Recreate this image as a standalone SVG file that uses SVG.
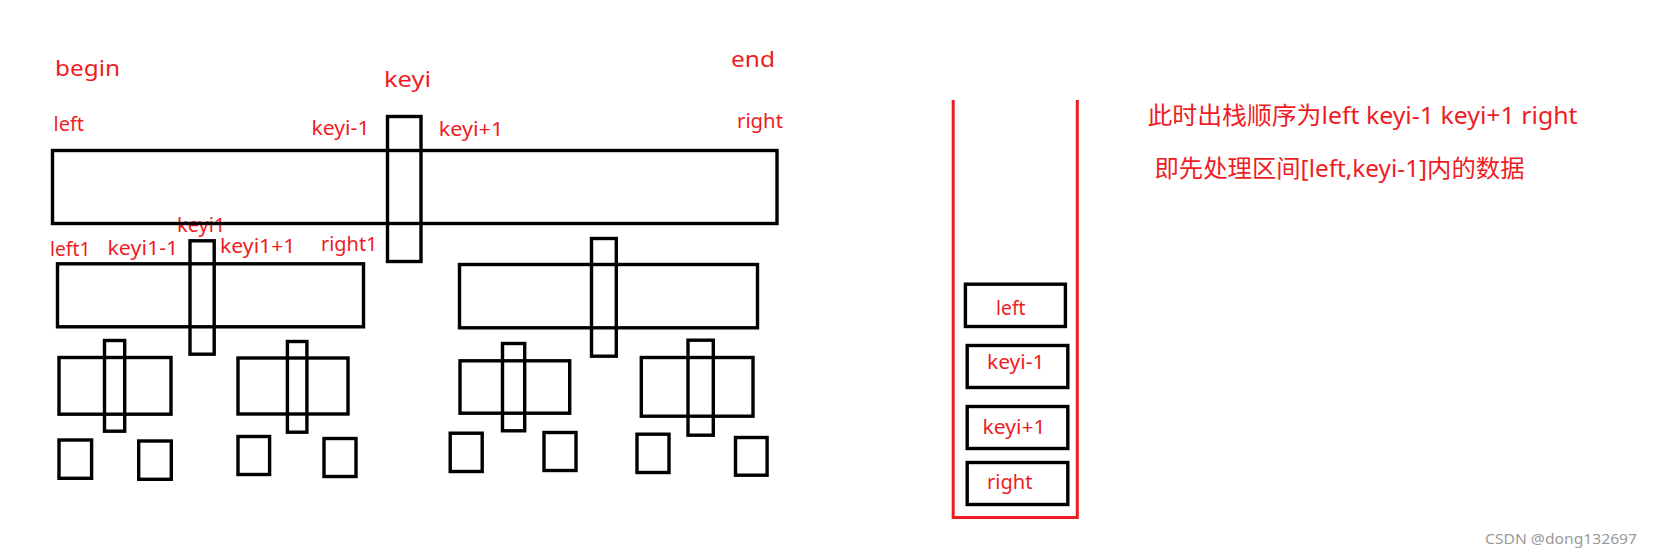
<svg xmlns="http://www.w3.org/2000/svg" width="1653" height="557" viewBox="0 0 1653 557">
<style>
.b{fill:none;stroke:#000;stroke-width:3.4}
.r{fill:none;stroke:#ED1C24;stroke-width:3}
text{font-family:"Noto Sans","Noto Sans CJK SC",sans-serif;fill:#EE1C25}
.L{font-size:22px}
.M{font-size:19px}
.C{font-size:24px}
.w{font-size:14.5px;fill:#9a9a9a}
</style>
<rect width="1653" height="557" fill="#fff"/>
<g id="labels-top">
<text class="L" x="55" y="75.5" textLength="65" lengthAdjust="spacingAndGlyphs">begin</text>
<text class="L" x="384" y="87" textLength="47" lengthAdjust="spacingAndGlyphs">keyi</text>
<text class="L" x="731" y="66.5" textLength="44" lengthAdjust="spacingAndGlyphs">end</text>
<text class="M" x="53.5" y="130.5" textLength="30.5" lengthAdjust="spacingAndGlyphs">left</text>
<text class="M" x="311.5" y="135" textLength="58" lengthAdjust="spacingAndGlyphs">keyi-1</text>
<text class="M" x="438.8" y="136" textLength="64.5" lengthAdjust="spacingAndGlyphs">keyi+1</text>
<text class="M" x="737" y="127.5" textLength="46" lengthAdjust="spacingAndGlyphs">right</text>
<text class="M" x="177" y="231.5" textLength="48.5" lengthAdjust="spacingAndGlyphs">keyi1</text>
<text class="M" x="50" y="255.5" textLength="40.5" lengthAdjust="spacingAndGlyphs">left1</text>
<text class="M" x="107.4" y="255" textLength="71" lengthAdjust="spacingAndGlyphs">keyi1-1</text>
<text class="M" x="220" y="253.3" textLength="75.5" lengthAdjust="spacingAndGlyphs">keyi1+1</text>
<text class="M" x="321" y="250.5" textLength="56.5" lengthAdjust="spacingAndGlyphs">right1</text>
</g>
<g id="level1">
<rect class="b" x="52.5" y="150.5" width="724.5" height="73"/>
<rect class="b" x="387.5" y="116.5" width="33.5" height="145"/>
</g>
<g id="level2">
<rect class="b" x="57.5" y="263.8" width="306" height="63"/>
<rect class="b" x="190" y="240.8" width="24.2" height="113.4"/>
<rect class="b" x="459.5" y="264.5" width="298" height="63.3"/>
<rect class="b" x="591.5" y="238.5" width="24.8" height="117.7"/>
</g>
<g id="level3">
<rect class="b" x="59" y="357.5" width="112" height="56.7"/>
<rect class="b" x="104.5" y="340.5" width="20.2" height="90.7"/>
<rect class="b" x="238" y="358" width="110" height="56"/>
<rect class="b" x="287.4" y="341.5" width="19.5" height="90.7"/>
<rect class="b" x="460" y="360.8" width="109.7" height="52.4"/>
<rect class="b" x="502.5" y="343.5" width="22.2" height="87.3"/>
<rect class="b" x="641.3" y="357.5" width="111.7" height="58.7"/>
<rect class="b" x="688" y="340.2" width="25.3" height="95"/>
</g>
<g id="level4">
<rect class="b" x="59" y="440" width="32.6" height="38.3"/>
<rect class="b" x="138.7" y="441" width="32.6" height="38.3"/>
<rect class="b" x="238" y="436.5" width="31.6" height="38"/>
<rect class="b" x="324" y="438.5" width="32" height="38"/>
<rect class="b" x="450.2" y="433.2" width="32" height="38.3"/>
<rect class="b" x="544" y="432.5" width="32" height="38"/>
<rect class="b" x="637" y="434.2" width="32" height="38.3"/>
<rect class="b" x="735.5" y="437.5" width="31.6" height="37.7"/>
</g>
<g id="stack">
<path class="r" d="M953.2,100 V517.5 H1077.3 V100"/>
<g id="stack-left"><rect class="b" x="965.4" y="284.2" width="100" height="42.3"/><text class="M" x="996" y="315" textLength="29.5" lengthAdjust="spacingAndGlyphs">left</text></g>
<g id="stack-keyi-1"><rect class="b" x="967.2" y="345.5" width="100.6" height="42"/><text class="M" x="987" y="369.3" textLength="57.5" lengthAdjust="spacingAndGlyphs">keyi-1</text></g>
<g id="stack-keyi+1"><rect class="b" x="967.2" y="406.5" width="100.6" height="42"/><text class="M" x="982.6" y="434" textLength="63" lengthAdjust="spacingAndGlyphs">keyi+1</text></g>
<g id="stack-right"><rect class="b" x="967.2" y="462.5" width="100.6" height="42"/><text class="M" x="987" y="489.3" textLength="45.5" lengthAdjust="spacingAndGlyphs">right</text></g>
</g>
<g id="notes">
<text class="C" x="1147.5" y="123.5" textLength="430" lengthAdjust="spacingAndGlyphs">此时出栈顺序为left keyi-1 keyi+1 right</text>
<text class="C" x="1154.5" y="176.5" textLength="370" lengthAdjust="spacingAndGlyphs">即先处理区间[left,keyi-1]内的数据</text>
</g>
<text class="w" x="1485" y="544.3" textLength="152" lengthAdjust="spacingAndGlyphs">CSDN @dong132697</text>
</svg>
